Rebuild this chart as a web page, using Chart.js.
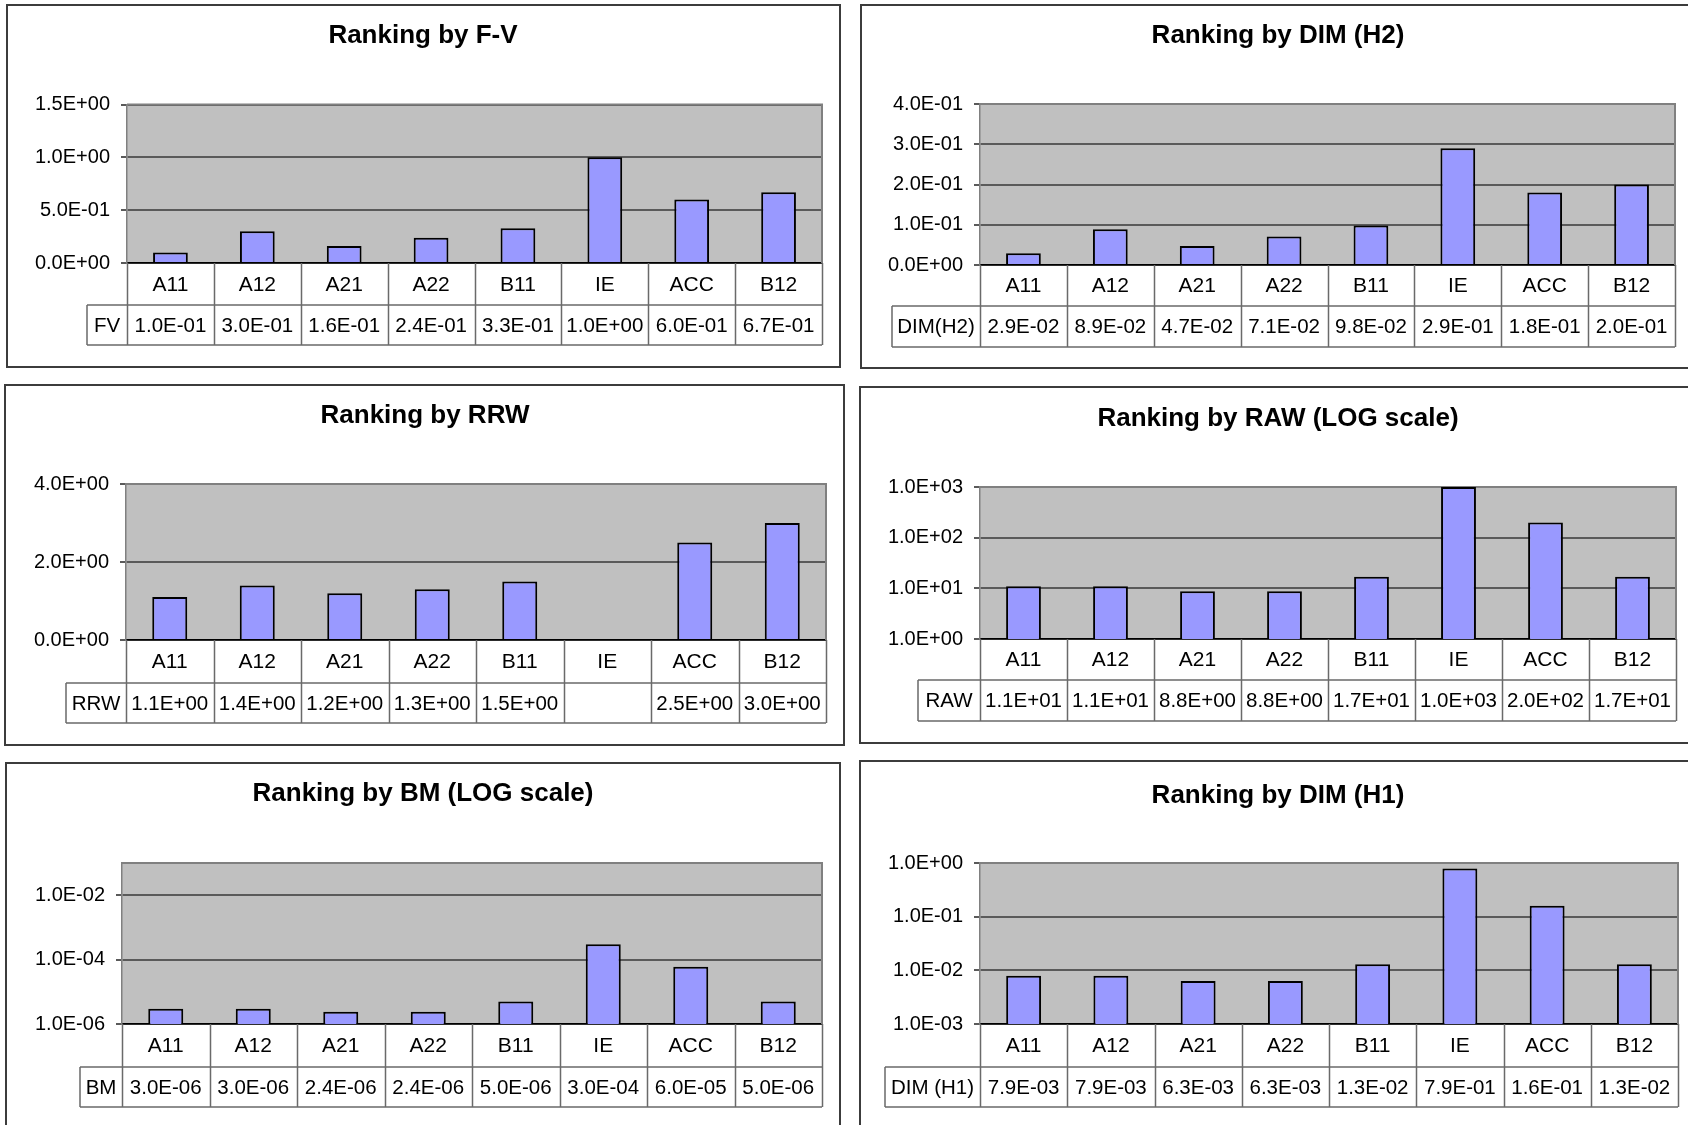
<!DOCTYPE html>
<html>
<head>
<meta charset="utf-8">
<title>Rankings</title>
<script src="https://cdn.jsdelivr.net/npm/chart.js@4.4.1/dist/chart.umd.min.js"></script>
<style>
  html, body { margin: 0; padding: 0; background: #fff; }
  body { position: relative; width: 1688px; height: 1125px; overflow: hidden; }
  .panel { position: absolute; box-sizing: border-box; border: 2px solid #3c3c3c; }
  canvas { position: absolute; }
</style>
</head>
<body>
<script>
// categories shared by all six panels
const categories = ['A11', 'A12', 'A21', 'A22', 'B11', 'IE', 'ACC', 'B12'];

const fvValues    = [0.10, 0.30, 0.16, 0.24, 0.33, 1.0, 0.60, 0.67];
const dimH2Values = [0.029, 0.089, 0.047, 0.071, 0.098, 0.29, 0.18, 0.20];
const rrwValues   = [1.1, 1.4, 1.2, 1.3, 1.5, null, 2.5, 3.0];
const rawValues   = [11, 11, 8.8, 8.8, 17, 1000, 200, 17];
const bmValues    = [3.0e-6, 3.0e-6, 2.4e-6, 2.4e-6, 5.0e-6, 3.0e-4, 6.0e-5, 5.0e-6];
const dimH1Values = [7.9e-3, 7.9e-3, 6.3e-3, 6.3e-3, 1.3e-2, 7.9e-1, 1.6e-1, 1.3e-2];

// y axis ticks
const fvTicks    = [0, 0.5, 1.0, 1.5];
const dimH2Ticks = [0, 0.1, 0.2, 0.3, 0.4];
const rrwTicks   = [0, 2, 4];
const rawTicks   = [1, 10, 100, 1000];
const bmTicks    = [1e-6, 1e-4, 1e-2];
const dimH1Ticks = [1e-3, 1e-2, 1e-1, 1];

const FONT = "'Liberation Sans', Arial, sans-serif";
Chart.defaults.font.family = FONT;
Chart.defaults.color = '#000';

// Excel-like scientific label: 1.0E-01
function sci(v) {
  if (v === null || v === undefined) return '';
  if (v === 0) return '0.0E+00';
  let e = Math.floor(Math.log10(v) + 1e-9);
  let m = (v / Math.pow(10, e)).toFixed(1);
  if (m === '10.0') { m = '1.0'; e += 1; }
  return m + 'E' + (e < 0 ? '-' : '+') + String(Math.abs(e)).padStart(2, '0');
}

// grey plot background, frame and the data table under the axis
const tablePlugin = {
  id: 'dataTable',
  beforeDraw(chart) {
    const { ctx, chartArea: a } = chart;
    ctx.save();
    ctx.fillStyle = '#c0c0c0';
    ctx.fillRect(a.left, a.top, a.right - a.left, a.bottom - a.top);
    ctx.restore();
  },
  beforeDatasetsDraw(chart) {
    const { ctx, chartArea: a } = chart;
    ctx.save();
    ctx.strokeStyle = '#808080';
    ctx.lineWidth = 2;
    ctx.beginPath();
    ctx.moveTo(a.left, a.top);
    ctx.lineTo(a.right, a.top);
    ctx.lineTo(a.right, a.bottom);
    ctx.stroke();
    ctx.restore();
  },
  afterDraw(chart, args, opts) {
    const { ctx, chartArea: a } = chart;
    const x = chart.scales.x;
    const n = chart.data.labels.length;
    const catB = a.bottom + opts.catH;
    const tabB = catB + opts.rowH;
    ctx.save();
    ctx.strokeStyle = '#6a6a6a';
    ctx.lineWidth = 1.5;
    ctx.beginPath();
    for (let i = 0; i <= n; i++) {
      const px = Math.round(x.getPixelForValue(i - 0.5)) + 0.5;
      ctx.moveTo(px, a.bottom);
      ctx.lineTo(px, tabB);
    }
    ctx.moveTo(opts.labelLeft, catB); ctx.lineTo(a.right, catB);
    ctx.moveTo(opts.labelLeft, tabB); ctx.lineTo(a.right, tabB);
    ctx.moveTo(opts.labelLeft, catB); ctx.lineTo(opts.labelLeft, tabB);
    ctx.stroke();

    ctx.fillStyle = '#000';
    ctx.font = '20.5px ' + FONT;
    ctx.textAlign = 'center';
    ctx.textBaseline = 'middle';
    const cy = (catB + tabB) / 2 + 1;
    ctx.fillText(opts.rowLabel, (opts.labelLeft + a.left) / 2, cy);
    chart.data.datasets[0].data.forEach((v, i) => {
      ctx.fillText(sci(v), x.getPixelForValue(i), cy);
    });
    ctx.restore();
  }
};

function makePanel(p) {
  const [bl, bt, br, bb] = p.box;
  const div = document.createElement('div');
  div.className = 'panel';
  div.style.left = (bl - 1) + 'px';
  div.style.top = (bt - 1) + 'px';
  div.style.width = (br - bl + 2) + 'px';
  div.style.height = (bb - bt + 2) + 'px';
  document.body.appendChild(div);

  const cl = bl + 1, ct = bt + 1, cw = br - bl - 2, ch = bb - bt - 2;
  const canvas = document.createElement('canvas');
  canvas.width = cw;
  canvas.height = ch;
  canvas.style.left = cl + 'px';
  canvas.style.top = ct + 'px';
  document.body.appendChild(canvas);

  const [pl, pt, pr, pb] = p.plot;
  const padR = cl + cw - pr;
  const padL = 2 * p.titleX - 2 * cl - cw + padR;
  const titleLH = 31.2;
  const titleTop = p.titleY - ct - titleLH / 2;
  const catH = p.catB - pb;

  new Chart(canvas, {
    type: 'bar',
    data: {
      labels: categories,
      datasets: [{
        data: p.values,
        backgroundColor: '#9999ff',
        borderColor: '#000',
        borderWidth: 2,
        barPercentage: 0.4,
        categoryPercentage: 1
      }]
    },
    options: {
      responsive: false,
      animation: false,
      devicePixelRatio: 1,
      layout: { padding: { left: padL, top: 0, right: padR, bottom: ct + ch - p.tabB } },
      plugins: {
        legend: { display: false },
        tooltip: { enabled: false },
        title: {
          display: true,
          text: p.title,
          color: '#000',
          font: { size: 26, weight: 'bold', lineHeight: 1.2 },
          padding: { top: titleTop, bottom: pt - ct - titleLH - titleTop }
        },
        dataTable: { rowLabel: p.rowLabel, catH: catH, rowH: p.tabB - p.catB, labelLeft: p.labL - cl }
      },
      scales: {
        x: {
          grid: { display: false, drawTicks: false },
          border: { display: true, color: '#000', width: 1.5 },
          ticks: { color: '#000', font: { size: 21 }, padding: catH / 2 - 12.6 + 1, autoSkip: false, maxRotation: 0 },
          afterFit: s => { s.height = p.tabB - pb; }
        },
        y: {
          type: p.type,
          min: p.min,
          max: p.max,
          afterBuildTicks: s => { s.ticks = p.ticks.map(value => ({ value })); },
          afterFit: s => { s.width = pl - cl - padL; },
          grid: { color: '#5a5a5a', lineWidth: 2, tickLength: 6, tickColor: '#5a5a5a' },
          border: { color: '#808080', width: 1.5 },
          ticks: { color: '#000', font: { size: 20 }, padding: 11, callback: v => sci(v) }
        }
      }
    },
    plugins: [tablePlugin]
  });
}

makePanel({ title: 'Ranking by F-V', rowLabel: 'FV', values: fvValues, ticks: fvTicks,
  type: 'linear', min: 0, max: 1.5,
  box: [7, 5, 840, 367], plot: [127, 104.5, 822, 263], catB: 305, tabB: 345, labL: 87, titleX: 423, titleY: 36 });

makePanel({ title: 'Ranking by DIM (H2)', rowLabel: 'DIM(H2)', values: dimH2Values, ticks: dimH2Ticks,
  type: 'linear', min: 0, max: 0.4,
  box: [861, 5, 1700, 368], plot: [980, 104, 1675, 265], catB: 306, tabB: 347, labL: 892, titleX: 1278, titleY: 36 });

makePanel({ title: 'Ranking by RRW', rowLabel: 'RRW', values: rrwValues, ticks: rrwTicks,
  type: 'linear', min: 0, max: 4,
  box: [5, 385, 844, 745], plot: [126, 484, 826, 640], catB: 683, tabB: 723, labL: 66, titleX: 425, titleY: 416 });

makePanel({ title: 'Ranking by RAW (LOG scale)', rowLabel: 'RAW', values: rawValues, ticks: rawTicks,
  type: 'logarithmic', min: 1, max: 1000,
  box: [860, 387, 1700, 743], plot: [980, 487, 1676, 639], catB: 680, tabB: 721, labL: 918, titleX: 1278, titleY: 419 });

makePanel({ title: 'Ranking by BM (LOG scale)', rowLabel: 'BM', values: bmValues, ticks: bmTicks,
  type: 'logarithmic', min: 1e-6, max: 1e-1,
  box: [6, 763, 840, 1140], plot: [122, 863, 822, 1024], catB: 1067, tabB: 1107, labL: 80, titleX: 423, titleY: 794 });

makePanel({ title: 'Ranking by DIM (H1)', rowLabel: 'DIM (H1)', values: dimH1Values, ticks: dimH1Ticks,
  type: 'logarithmic', min: 1e-3, max: 1,
  box: [860, 761, 1700, 1140], plot: [980, 863, 1678, 1024], catB: 1067, tabB: 1107, labL: 885, titleX: 1278, titleY: 796 });
</script>
</body>
</html>
